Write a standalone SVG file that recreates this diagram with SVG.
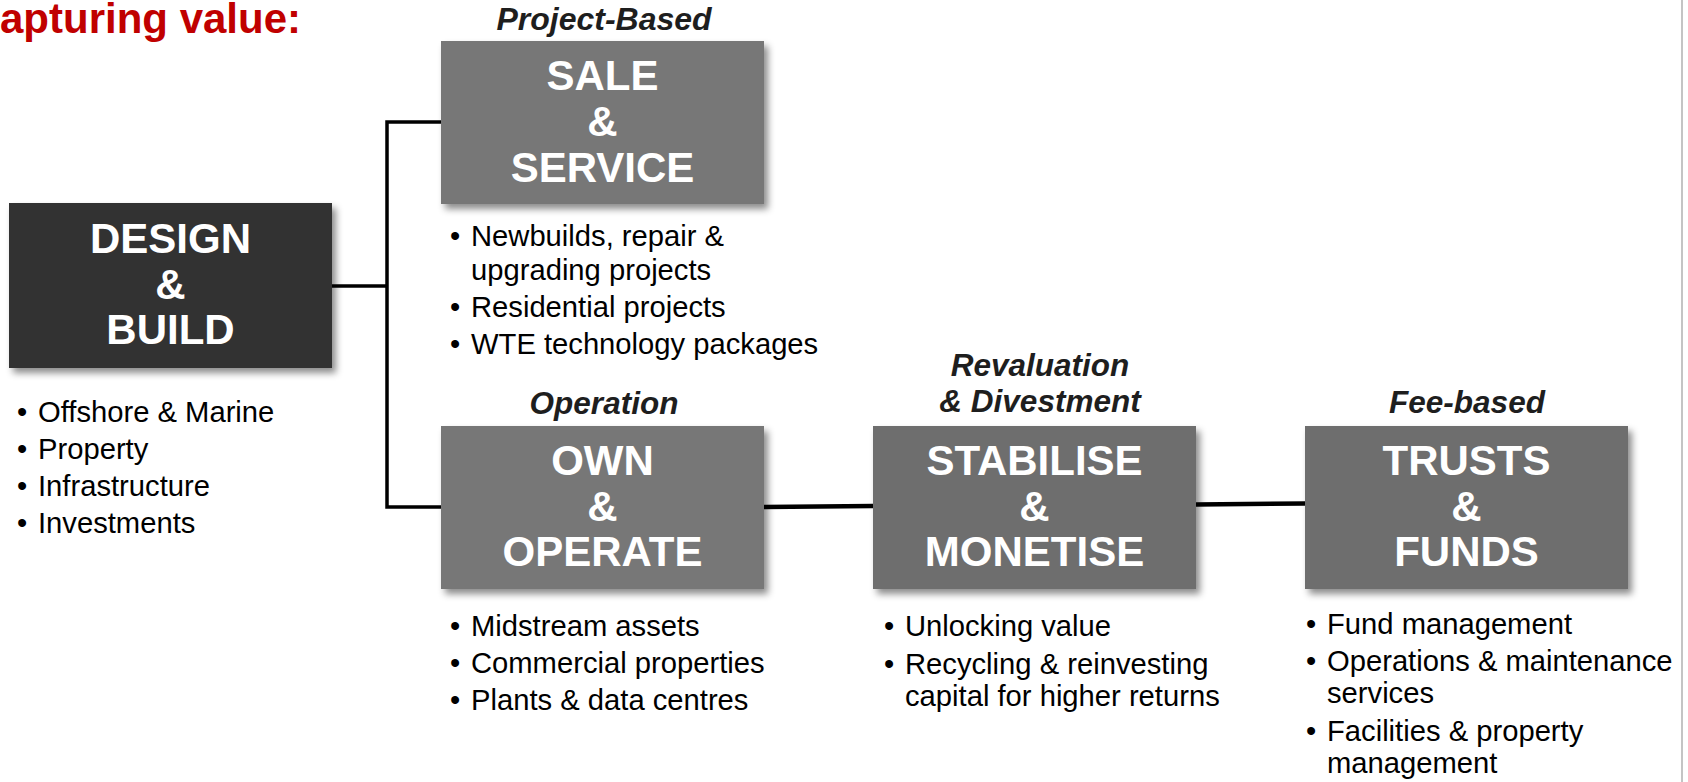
<svg xmlns="http://www.w3.org/2000/svg" width="1688" height="782" viewBox="0 0 1688 782">
<defs>
<filter id="sh" x="-10%" y="-10%" width="125%" height="130%">
<feDropShadow dx="4" dy="5" stdDeviation="3.5" flood-color="#000" flood-opacity="0.45"/>
</filter>
<style>
.box{filter:url(#sh)}
.dark{fill:#333333}
.mid{fill:#777777}
.mid2{fill:#6e6e6e}
.ttl{font-family:"Liberation Sans",Arial,sans-serif;font-weight:bold;font-size:42px;fill:#ffffff;text-anchor:middle}
.lbl{font-family:"Liberation Sans",Arial,sans-serif;font-weight:bold;font-style:italic;font-size:31.5px;fill:#1e1e1e;text-anchor:middle}
.bt{font-family:"Liberation Sans",Arial,sans-serif;font-size:29.2px;fill:#000000}
.conn{stroke:#000;fill:none;stroke-linecap:butt;stroke-linejoin:miter}
</style>
</defs>
<rect width="1688" height="782" fill="#ffffff"/>
<line x1="1682" y1="0" x2="1682" y2="782" stroke="#c4c4c4" stroke-width="2"/>
<text x="0" y="33" font-family="Liberation Sans, Arial, sans-serif" font-weight="bold" font-size="42" fill="#c00000">apturing value:</text>

<g id="connectors">
<polyline class="conn" stroke-width="3.5" points="332,286 387,286"/>
<polyline class="conn" stroke-width="3.5" points="441,122 387,122 387,507 441,507"/>
<line class="conn" stroke-width="4.5" x1="764" y1="507" x2="873" y2="506"/>
<line class="conn" stroke-width="4.5" x1="1196" y1="504.5" x2="1305" y2="503.5"/>
</g>

<g id="design-build">
<rect class="box dark" x="9" y="203" width="323" height="165"/>
<text class="ttl" x="170.5" y="253">DESIGN</text>
<text class="ttl" x="170.5" y="299">&amp;</text>
<text class="ttl" x="170.5" y="344">BUILD</text>
<text class="bt" x="17" y="422">•</text><text class="bt" x="38" y="422">Offshore &amp; Marine</text>
<text class="bt" x="17" y="459">•</text><text class="bt" x="38" y="459">Property</text>
<text class="bt" x="17" y="496">•</text><text class="bt" x="38" y="496">Infrastructure</text>
<text class="bt" x="17" y="533">•</text><text class="bt" x="38" y="533">Investments</text>
</g>

<g id="sale-service">
<text class="lbl" x="604" y="30" style="font-size:32px">Project-Based</text>
<rect class="box mid" x="441" y="41" width="323" height="163"/>
<text class="ttl" x="602.5" y="90">SALE</text>
<text class="ttl" x="602.5" y="136">&amp;</text>
<text class="ttl" x="602.5" y="182">SERVICE</text>
<text class="bt" x="450" y="246">•</text><text class="bt" x="471" y="246">Newbuilds, repair &amp;</text>
<text class="bt" x="471" y="280">upgrading projects</text>
<text class="bt" x="450" y="317">•</text><text class="bt" x="471" y="317">Residential projects</text>
<text class="bt" x="450" y="354">•</text><text class="bt" x="471" y="354">WTE technology packages</text>
</g>

<g id="own-operate">
<text class="lbl" x="604" y="414">Operation</text>
<rect class="box mid" x="441" y="426" width="323" height="163"/>
<text class="ttl" x="602.5" y="475">OWN</text>
<text class="ttl" x="602.5" y="521">&amp;</text>
<text class="ttl" x="602.5" y="566">OPERATE</text>
<text class="bt" x="450" y="636">•</text><text class="bt" x="471" y="636">Midstream assets</text>
<text class="bt" x="450" y="673">•</text><text class="bt" x="471" y="673">Commercial properties</text>
<text class="bt" x="450" y="710">•</text><text class="bt" x="471" y="710">Plants &amp; data centres</text>
</g>

<g id="stabilise-monetise">
<text class="lbl" x="1040" y="376">Revaluation</text>
<text class="lbl" x="1040" y="412">&amp; Divestment</text>
<rect class="box mid2" x="873" y="426" width="323" height="163"/>
<text class="ttl" x="1034.5" y="475">STABILISE</text>
<text class="ttl" x="1034.5" y="521">&amp;</text>
<text class="ttl" x="1034.5" y="566">MONETISE</text>
<text class="bt" x="884" y="636">•</text><text class="bt" x="905" y="636">Unlocking value</text>
<text class="bt" x="884" y="674">•</text><text class="bt" x="905" y="674">Recycling &amp; reinvesting</text>
<text class="bt" x="905" y="706">capital for higher returns</text>
</g>

<g id="trusts-funds">
<text class="lbl" x="1467" y="413">Fee-based</text>
<rect class="box mid2" x="1305" y="426" width="323" height="163"/>
<text class="ttl" x="1466.5" y="475">TRUSTS</text>
<text class="ttl" x="1466.5" y="521">&amp;</text>
<text class="ttl" x="1466.5" y="566">FUNDS</text>
<text class="bt" x="1306" y="634">•</text><text class="bt" x="1327" y="634">Fund management</text>
<text class="bt" x="1306" y="671">•</text><text class="bt" x="1327" y="671">Operations &amp; maintenance</text>
<text class="bt" x="1327" y="703">services</text>
<text class="bt" x="1306" y="741">•</text><text class="bt" x="1327" y="741">Facilities &amp; property</text>
<text class="bt" x="1327" y="773">management</text>
</g>
</svg>
